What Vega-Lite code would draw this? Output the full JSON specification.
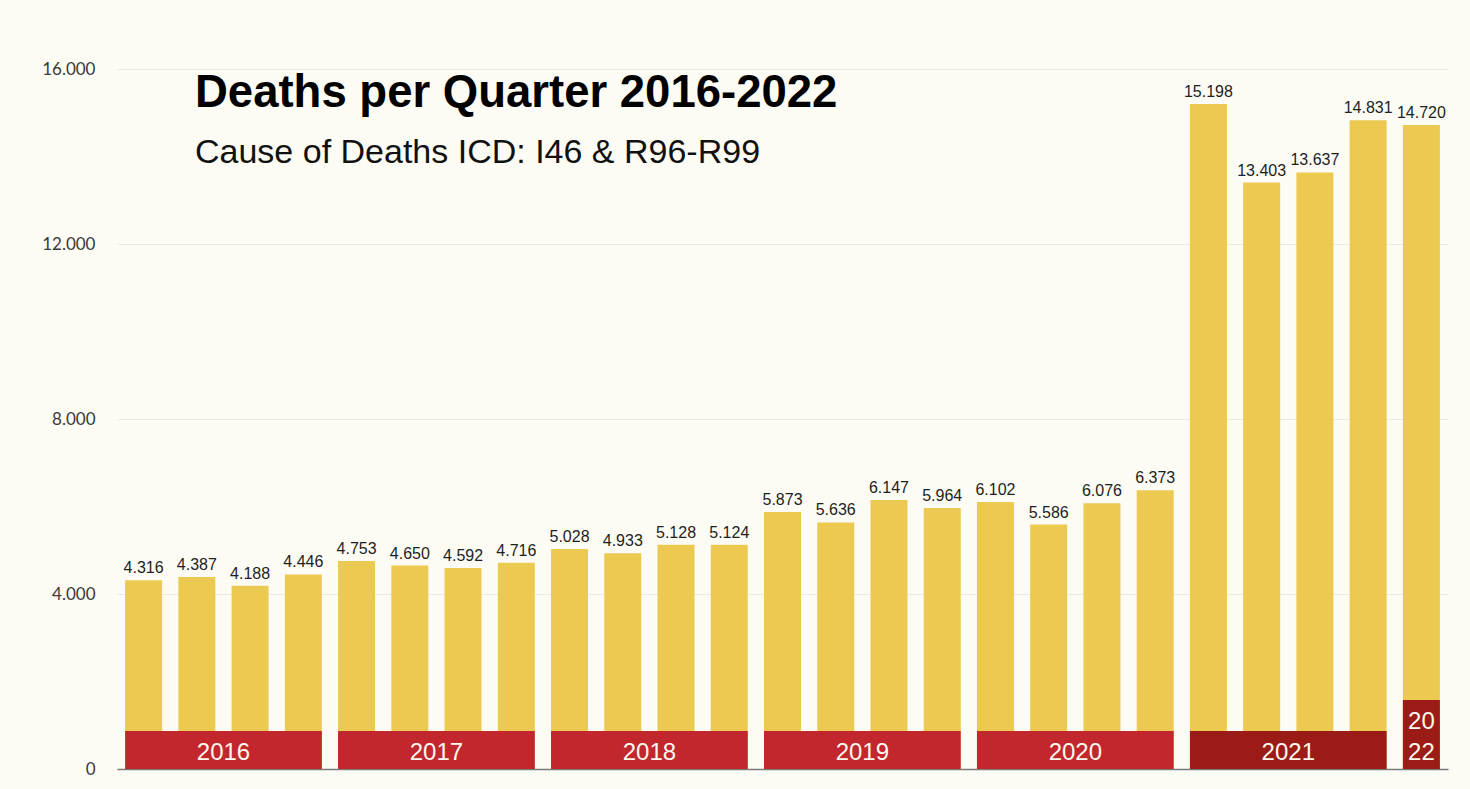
{
  "$schema": "https://vega.github.io/schema/vega-lite/v6.json",
  "width": 1331,
  "height": 700,
  "autosize": {"type": "none"},
  "padding": {"left": 117, "top": 69, "right": 22, "bottom": 20},
  "background": "#fcfcf5",
  "title": {
    "text": "Deaths per Quarter 2016-2022",
    "subtitle": "Cause of Deaths ICD: I46 & R96-R99",
    "anchor": "start",
    "frame": "group",
    "orient": "top",
    "offset": 0,
    "dx": 78,
    "dy": 110,
    "font": "Liberation Sans",
    "fontSize": 45.5,
    "fontWeight": "bold",
    "color": "#000000",
    "subtitleFont": "Liberation Sans",
    "subtitleFontSize": 34,
    "subtitleColor": "#111111",
    "subtitlePadding": 20
  },
  "config": {
    "view": {"stroke": null},
    "locale": {"number": {"decimal": ",", "thousands": ".", "grouping": [3], "currency": ["", " €"]}},
    "axisY": {
      "domain": false,
      "ticks": false,
      "gridColor": "#ebeae2",
      "gridWidth": 1,
      "labelFont": "Lato",
      "labelFontSize": 17,
      "labelColor": "#3a3a3a",
      "labelPadding": 22
    },
    "axisX": {
      "domain": true,
      "domainColor": "#7a7a7a",
      "domainWidth": 1.5,
      "ticks": false,
      "labels": false,
      "grid": false
    }
  },
  "datasets": {
    "quarters": [
      {"q": 1, "year": "2016", "quarter": "Q1", "deaths": 4316},
      {"q": 2, "year": "2016", "quarter": "Q2", "deaths": 4387},
      {"q": 3, "year": "2016", "quarter": "Q3", "deaths": 4188},
      {"q": 4, "year": "2016", "quarter": "Q4", "deaths": 4446},
      {"q": 5, "year": "2017", "quarter": "Q1", "deaths": 4753},
      {"q": 6, "year": "2017", "quarter": "Q2", "deaths": 4650},
      {"q": 7, "year": "2017", "quarter": "Q3", "deaths": 4592},
      {"q": 8, "year": "2017", "quarter": "Q4", "deaths": 4716},
      {"q": 9, "year": "2018", "quarter": "Q1", "deaths": 5028},
      {"q": 10, "year": "2018", "quarter": "Q2", "deaths": 4933},
      {"q": 11, "year": "2018", "quarter": "Q3", "deaths": 5128},
      {"q": 12, "year": "2018", "quarter": "Q4", "deaths": 5124},
      {"q": 13, "year": "2019", "quarter": "Q1", "deaths": 5873},
      {"q": 14, "year": "2019", "quarter": "Q2", "deaths": 5636},
      {"q": 15, "year": "2019", "quarter": "Q3", "deaths": 6147},
      {"q": 16, "year": "2019", "quarter": "Q4", "deaths": 5964},
      {"q": 17, "year": "2020", "quarter": "Q1", "deaths": 6102},
      {"q": 18, "year": "2020", "quarter": "Q2", "deaths": 5586},
      {"q": 19, "year": "2020", "quarter": "Q3", "deaths": 6076},
      {"q": 20, "year": "2020", "quarter": "Q4", "deaths": 6373},
      {"q": 21, "year": "2021", "quarter": "Q1", "deaths": 15198},
      {"q": 22, "year": "2021", "quarter": "Q2", "deaths": 13403},
      {"q": 23, "year": "2021", "quarter": "Q3", "deaths": 13637},
      {"q": 24, "year": "2021", "quarter": "Q4", "deaths": 14831},
      {"q": 25, "year": "2022", "quarter": "Q1", "deaths": 14720}
    ],
    "years": [
      {"year": "2016", "first": 1, "last": 4, "top": 870, "label": "2016", "shade": "a"},
      {"year": "2017", "first": 5, "last": 8, "top": 870, "label": "2017", "shade": "a"},
      {"year": "2018", "first": 9, "last": 12, "top": 870, "label": "2018", "shade": "a"},
      {"year": "2019", "first": 13, "last": 16, "top": 870, "label": "2019", "shade": "a"},
      {"year": "2020", "first": 17, "last": 20, "top": 870, "label": "2020", "shade": "a"},
      {"year": "2021", "first": 21, "last": 24, "top": 870, "label": "2021", "shade": "b"},
      {"year": "2022", "first": 25, "last": 25, "top": 1580, "label": ["20", "22"], "shade": "b"}
    ]
  },
  "layer": [
    {
      "data": {"name": "quarters"},
      "mark": {"type": "bar", "size": 37, "color": "#ecc951"},
      "encoding": {
        "x": {"field": "q", "type": "quantitative", "scale": {"domain": [0.5, 25.5], "nice": false, "zero": false, "padding": 0}, "title": null},
        "y": {"field": "deaths", "type": "quantitative", "scale": {"domain": [0, 16000], "nice": false}, "axis": {"values": [0, 4000, 8000, 12000, 16000], "format": ",d"}, "title": null}
      }
    },
    {
      "data": {"name": "quarters"},
      "mark": {"type": "text", "baseline": "bottom", "dy": -4, "font": "Liberation Sans", "fontSize": 16, "color": "#1e1e1e"},
      "encoding": {
        "x": {"field": "q", "type": "quantitative", "title": null},
        "y": {"field": "deaths", "type": "quantitative", "title": null},
        "text": {"field": "deaths", "type": "quantitative", "format": ",d"}
      }
    },
    {
      "data": {"name": "years"},
      "mark": {"type": "bar", "xOffset": -18.5, "x2Offset": 18.5},
      "encoding": {
        "x": {"field": "first", "type": "quantitative", "title": null},
        "x2": {"field": "last"},
        "y": {"field": "top", "type": "quantitative", "title": null},
        "y2": {"datum": 0},
        "color": {"field": "shade", "type": "nominal", "scale": {"domain": ["a", "b"], "range": ["#c1272d", "#9b1c16"]}, "legend": null}
      }
    },
    {
      "data": {"name": "years"},
      "transform": [
        {"filter": "datum.year != '2022'"},
        {"calculate": "(datum.first + datum.last) / 2", "as": "mid"}
      ],
      "mark": {"type": "text", "baseline": "bottom", "font": "Liberation Sans", "fontSize": 24, "color": "#fff8ee"},
      "encoding": {
        "x": {"field": "mid", "type": "quantitative", "title": null},
        "y": {"datum": 100, "type": "quantitative"},
        "text": {"field": "label", "type": "nominal"}
      }
    },
    {
      "data": {"name": "years"},
      "transform": [
        {"filter": "datum.year == '2022'"},
        {"calculate": "(datum.first + datum.last) / 2", "as": "mid"}
      ],
      "mark": {"type": "text", "baseline": "bottom", "font": "Liberation Sans", "fontSize": 24, "lineHeight": 31, "color": "#fff8ee"},
      "encoding": {
        "x": {"field": "mid", "type": "quantitative", "title": null},
        "y": {"datum": 810, "type": "quantitative"},
        "text": {"field": "label", "type": "nominal"}
      }
    }
  ]
}
